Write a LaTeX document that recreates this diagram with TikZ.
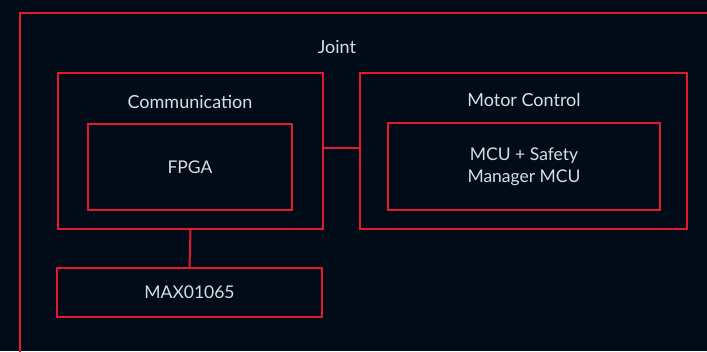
\documentclass[tikz,border=0pt]{standalone}
\usepackage{fontspec}
\setmainfont{Lato}
\usetikzlibrary{positioning}
\definecolor{navy}{HTML}{020C19}
\definecolor{jointred}{HTML}{E3192F}
\definecolor{labelgrey}{HTML}{D9DDE2}

\tikzset{
  box/.style={draw=jointred, line width=2pt, inner sep=0pt, text=labelgrey, align=center, font=\fontsize{17.5}{22}\selectfont},
  title/.style={text=labelgrey, inner sep=0pt, font=\fontsize{18}{22}\selectfont},
  wire/.style={jointred, line width=2pt}
}

\begin{document}
\begin{tikzpicture}[x=1pt, y=-1pt]

% background and page
\fill[navy] (0,0) rectangle (707,351);
\useasboundingbox (0,0) rectangle (707,351);
\clip (0,0) rectangle (707,351);

% joint frame, runs off the page
\draw[wire] (20,360) -- (20,13) -- (720,13);
\node[title] (joint) at (337,47) {Joint};

% communication
\node[box, minimum width=265pt, minimum height=156pt] (comm) at (190.5,151) {};
\node[title] (commlabel) at (190,102) {Communication};
\node[box, minimum width=204pt, minimum height=86pt] (fpga) at (190,167) {FPGA};

% motor control
\node[box, minimum width=327pt, minimum height=156pt] (motor) at (523.5,151) {};
\node[title] (motorlabel) at (524,100) {Motor Control};
\node[box, minimum width=272pt, minimum height=87pt] (mcu) at (524,166.5) {MCU + Safety\\Manager MCU};

% sensor
\node[box, minimum width=265pt, minimum height=49pt] (max) at (189.5,292.5) {MAX01065};

% links
\draw[wire] ([yshift=3pt]comm.east) -- ([yshift=3pt]motor.west);
\draw[wire] (comm.south) -- (max.north);

\end{tikzpicture}
\end{document}
